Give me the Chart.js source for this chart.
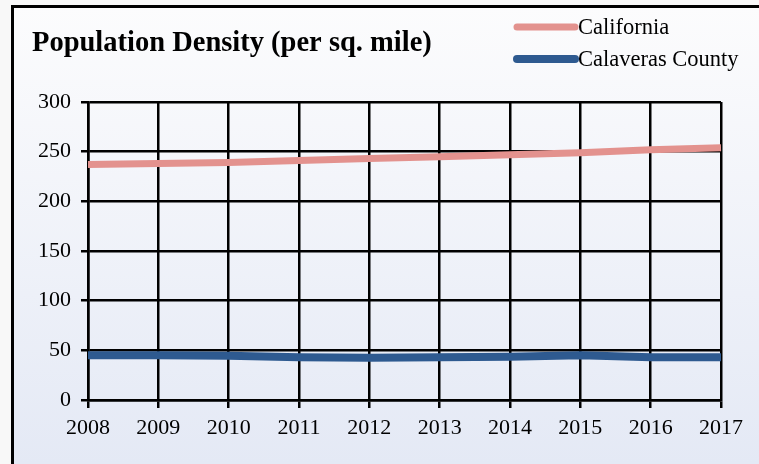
<!DOCTYPE html>
<html>
<head>
<meta charset="utf-8">
<script src="https://cdn.jsdelivr.net/npm/chart.js@4.4.0/dist/chart.umd.min.js"></script>
<style>
  html, body { margin: 0; padding: 0; background: #f8f8f8; }
  #wrap { width: 759px; height: 464px; }
</style>
</head>
<body>
<div id="wrap"><canvas id="densityChart" width="759" height="464"></canvas></div>
<script>
// Dados
const years = ['2008', '2009', '2010', '2011', '2012', '2013', '2014', '2015', '2016', '2017'];
const california = [237, 238, 239, 241, 243, 245, 247, 249, 252, 254];
const calaveras = [45, 45, 44.5, 43, 42.5, 43, 43.5, 45, 43, 43];
const yTicks = [0, 50, 100, 150, 200, 250, 300];

const titleText = 'Population Density (per sq. mile)';
const serif = '"Liberation Serif", "Times New Roman", serif';

// Fundo com moldura (só borda esquerda e superior aparecem)
const framePlugin = {
    id: 'frame',
    beforeDraw(chart) {
        const ctx = chart.ctx;
        ctx.save();
        ctx.fillStyle = '#f8f8f8';
        ctx.fillRect(0, 0, chart.width, chart.height);
        const grad = ctx.createLinearGradient(0, 7, 0, chart.height);
        grad.addColorStop(0, '#fcfcfd');
        grad.addColorStop(1, '#e4e9f5');
        ctx.fillStyle = grad;
        ctx.fillRect(12, 7, chart.width - 12, chart.height - 7);
        ctx.strokeStyle = '#000';
        ctx.lineWidth = 3;
        ctx.beginPath();
        ctx.moveTo(12.5, chart.height);
        ctx.lineTo(12.5, 6.5);
        ctx.lineTo(chart.width, 6.5);
        ctx.stroke();
        ctx.restore();
    }
};

// Título e legenda desenhados à mão
const headerPlugin = {
    id: 'header',
    afterDraw(chart) {
        const ctx = chart.ctx;
        ctx.save();
        ctx.fillStyle = '#000';
        ctx.font = 'bold 28.5px ' + serif;
        ctx.textBaseline = 'alphabetic';
        ctx.textAlign = 'left';
        ctx.fillText(titleText, 32, 51);

        const rows = [27, 59];
        ctx.font = '22.5px ' + serif;
        ctx.textBaseline = 'middle';
        chart.data.datasets.forEach((ds, i) => {
            const y = rows[i];
            ctx.strokeStyle = ds.borderColor;
            ctx.lineWidth = ds.borderWidth;
            ctx.lineCap = 'round';
            ctx.beginPath();
            ctx.moveTo(517, y);
            ctx.lineTo(575, y);
            ctx.stroke();
            ctx.fillStyle = '#000';
            ctx.fillText(ds.label, 578, y + 1);
        });
        ctx.restore();
    }
};

const gridStyle = {
    color: '#000',
    lineWidth: 2.5
};

new Chart(document.getElementById('densityChart').getContext('2d'), {
    type: 'line',
    data: {
        labels: years,
        datasets: [{
            label: 'California',
            data: california,
            borderColor: '#e3928e',
            borderWidth: 7,
            pointRadius: 0,
            tension: 0
        }, {
            label: 'Calaveras County',
            data: calaveras,
            borderColor: '#2e5a90',
            borderWidth: 8,
            pointRadius: 0,
            tension: 0
        }]
    },
    options: {
        responsive: false,
        animation: false,
        devicePixelRatio: 1,
        layout: {
            padding: { left: 12, top: 102, right: 38, bottom: 24 }
        },
        scales: {
            x: {
                type: 'category',
                offset: false,
                grid: { ...gridStyle, tickLength: 8 },
                border: { color: '#000', width: 2.5 },
                ticks: {
                    color: '#000',
                    font: { family: serif, size: 22 },
                    padding: 7,
                    maxRotation: 0,
                    autoSkip: false
                },
                afterFit(scale) { scale.height = 40; }
            },
            y: {
                min: 0,
                max: 300,
                grid: { ...gridStyle, tickLength: 7 },
                border: { color: '#000', width: 2.5 },
                afterBuildTicks(scale) {
                    scale.ticks = yTicks.map(v => ({ value: v }));
                },
                ticks: {
                    color: '#000',
                    font: { family: serif, size: 22 },
                    padding: 10
                },
                afterFit(scale) { scale.width = 76; }
            }
        },
        plugins: {
            legend: { display: false },
            title: { display: false },
            tooltip: { enabled: false }
        }
    },
    plugins: [framePlugin, headerPlugin]
});
</script>
</body>
</html>
